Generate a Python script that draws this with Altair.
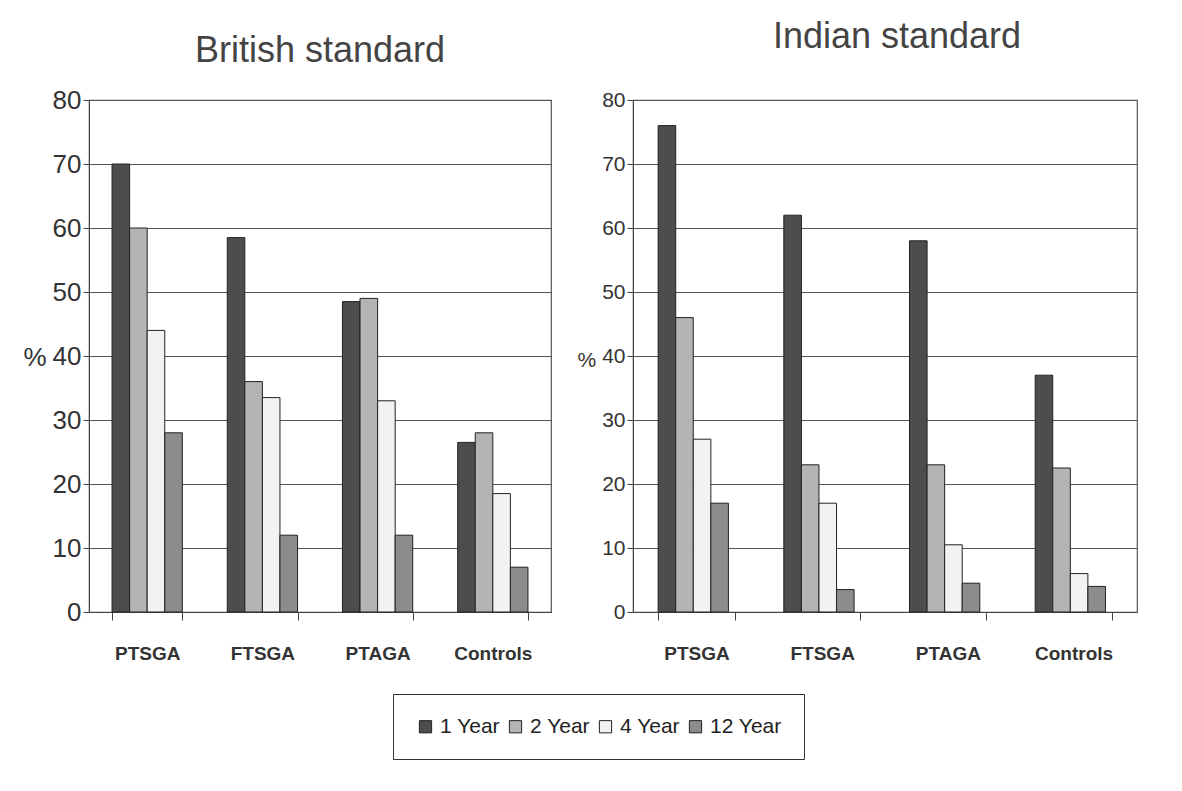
import altair as alt
import pandas as pd

categories = ["PTSGA", "FTSGA", "PTAGA", "Controls"]
years = ["1 Year", "2 Year", "4 Year", "12 Year"]

british_1yr = [70, 58.5, 48.5, 26.5]
british_2yr = [60, 36, 49, 28]
british_4yr = [44, 33.5, 33, 18.5]
british_12yr = [28, 12, 12, 7]

indian_1yr = [76, 62, 58, 37]
indian_2yr = [46, 23, 23, 22.5]
indian_4yr = [27, 17, 10.5, 6]
indian_12yr = [17, 3.5, 4.5, 4]

y_ticks = [0, 10, 20, 30, 40, 50, 60, 70, 80]
bar_colors = ["#4d4d4d", "#b4b4b4", "#f2f2f2", "#8c8c8c"]

FONT = "Liberation Sans, Arial, sans-serif"


def build(series):
    rows = []
    for year, vals in zip(years, series):
        for cat, v in zip(categories, vals):
            rows.append({"category": cat, "year": year, "value": v})
    return pd.DataFrame(rows)


df_brit = build([british_1yr, british_2yr, british_4yr, british_12yr])
df_ind = build([indian_1yr, indian_2yr, indian_4yr, indian_12yr])


def panel(df, title, w, h, ylab_size, title_offset, title_dx, show_legend):
    legend = None
    if show_legend:
        legend = alt.Legend(
            title=None, orient="none", direction="horizontal",
            legendX=304, legendY=h + 82,
            labelFont=FONT, labelFontSize=21, labelColor="#222",
            symbolType="square", symbolSize=150, symbolStrokeColor="#222",
            symbolStrokeWidth=1, columnPadding=5, labelOffset=4,
            strokeColor="#333", padding=22, fillColor="#ffffff",
        )
    return alt.Chart(df).mark_bar(stroke="#222", strokeWidth=1).encode(
        x=alt.X("category:N", sort=categories,
                scale=alt.Scale(paddingInner=0.39, paddingOuter=0.2),
                axis=alt.Axis(title=None, labelAngle=0, tickBand="extent",
                              labelFont=FONT, labelFontSize=19, labelFontWeight="bold",
                              labelColor="#333", labelPadding=24, tickSize=8,
                              domainColor="#444", tickColor="#444")),
        xOffset=alt.XOffset("year:N", sort=years,
                            scale=alt.Scale(paddingInner=0, paddingOuter=0)),
        y=alt.Y("value:Q", scale=alt.Scale(domain=[0, 80]),
                axis=alt.Axis(values=y_ticks, title="%", titleAngle=0,
                              titleAlign="right",
                              titleFont=FONT, titleFontSize=ylab_size,
                              titleFontWeight="normal", titleColor="#333",
                              titleY=h / 2 + 14, titlePadding=6,
                              labelFont=FONT, labelFontSize=ylab_size,
                              labelColor="#333", tickSize=6,
                              gridColor="#555", gridWidth=1.2,
                              domainColor="#444", tickColor="#444")),
        color=alt.Color("year:N", sort=years,
                        scale=alt.Scale(domain=years, range=bar_colors),
                        legend=legend),
    ).properties(
        width=w, height=h,
        title=alt.TitleParams(title, font=FONT, dx=title_dx,
                              fontSize=36, fontWeight="normal", color="#444",
                              offset=title_offset),
    )


left = panel(df_brit, "British standard", 462, 512, 26, 17, 0, True)
right = panel(df_ind, "Indian standard", 504, 512, 21, 33, 12, False)

chart = alt.hconcat(left, right, spacing=24).configure(
    background="#ffffff",
    padding={"left": 14, "top": 10, "right": 5, "bottom": 5},
).configure_view(stroke="#555", strokeWidth=1.2)

chart.save("out.html", embed_options={"renderer": "svg", "actions": False})
